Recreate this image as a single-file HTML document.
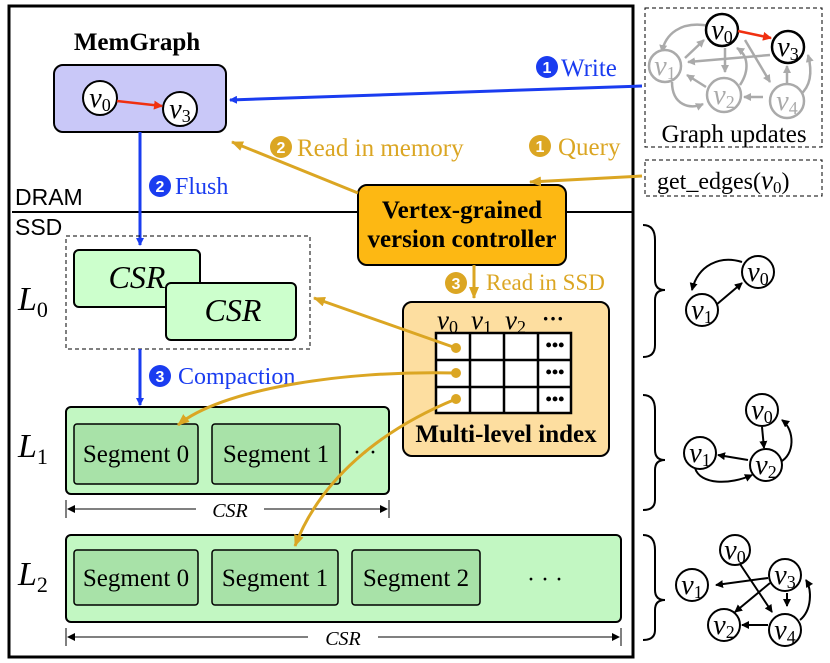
<!DOCTYPE html>
<html><head><meta charset="utf-8"><style>body{margin:0;background:#fff}svg{display:block}</style></head><body>
<svg width="830" height="663" viewBox="0 0 830 663" xmlns="http://www.w3.org/2000/svg" font-family="Liberation Serif, serif">
<defs>
<marker id="ab" markerWidth="8" markerHeight="8" refX="7" refY="4" orient="auto" markerUnits="userSpaceOnUse"><path d="M0,0L8,4L0,8z" fill="#1a3cf0"/></marker>
<marker id="ay" markerWidth="12" markerHeight="10" refX="11" refY="5" orient="auto" markerUnits="userSpaceOnUse"><path d="M0,0L12,5L0,10z" fill="#dba623"/></marker>
<marker id="ak" markerWidth="8" markerHeight="8" refX="7" refY="4" orient="auto" markerUnits="userSpaceOnUse"><path d="M0,0L8,4L0,8z" fill="#000"/></marker>
<marker id="ag" markerWidth="8" markerHeight="8" refX="7" refY="4" orient="auto" markerUnits="userSpaceOnUse"><path d="M0,0L8,4L0,8z" fill="#aaa"/></marker>
<marker id="ar" markerWidth="9" markerHeight="9" refX="8" refY="4.5" orient="auto" markerUnits="userSpaceOnUse"><path d="M0,0L9,4.5L0,9z" fill="#f03010"/></marker>
</defs>
<rect x="9" y="6" width="624" height="651" fill="none" stroke="#000" stroke-width="3"/>
<line x1="12" y1="212" x2="633" y2="212" stroke="#000" stroke-width="2"/>
<text x="15" y="205" font-family="Liberation Sans, sans-serif" font-size="23">DRAM</text>
<text x="15" y="235" font-family="Liberation Sans, sans-serif" font-size="23">SSD</text>

<text x="137" y="50" font-size="25" font-weight="bold" text-anchor="middle">MemGraph</text>
<rect x="54" y="65" width="172" height="67" rx="9" fill="#c9c8f8" stroke="#000" stroke-width="2"/>
<circle cx="100" cy="98" r="17" fill="#fff" stroke="#000" stroke-width="2"/>
<text x="100" y="107" font-size="28" font-style="italic" text-anchor="middle">v<tspan font-size="18" font-style="normal" dy="4">0</tspan></text>
<circle cx="180" cy="109" r="17" fill="#fff" stroke="#000" stroke-width="2"/>
<text x="180" y="118" font-size="28" font-style="italic" text-anchor="middle">v<tspan font-size="18" font-style="normal" dy="4">3</tspan></text>
<line x1="117" y1="101" x2="162" y2="106" stroke="#f03010" stroke-width="2.5" marker-end="url(#ar)"/>

<line x1="642" y1="86" x2="230" y2="100" stroke="#1a3cf0" stroke-width="3" marker-end="url(#ab)"/>
<circle cx="547" cy="67" r="11" fill="#1a3cf0"/><text x="547" y="73" fill="#fff" font-size="16" font-weight="bold" text-anchor="middle" font-family="Liberation Sans, sans-serif">1</text>
<text x="561" y="76" fill="#1a3cf0" font-size="25">Write</text>

<line x1="140" y1="132" x2="140" y2="245" stroke="#1a3cf0" stroke-width="3" marker-end="url(#ab)"/>
<circle cx="160" cy="186" r="11" fill="#1a3cf0"/><text x="160" y="192" fill="#fff" font-size="16" font-weight="bold" text-anchor="middle" font-family="Liberation Sans, sans-serif">2</text>
<text x="175" y="194" fill="#1a3cf0" font-size="24">Flush</text>

<rect x="66" y="236" width="244" height="113" fill="none" stroke="#000" stroke-dasharray="4,3"/>
<text x="18" y="310" font-size="34" font-style="italic">L<tspan font-size="22" font-style="normal" dy="7">0</tspan></text>
<rect x="74" y="250" width="126" height="57" rx="5" fill="#ccffcc" stroke="#000" stroke-width="2"/>
<text x="137" y="288" font-size="32" font-style="italic" text-anchor="middle">CSR</text>
<rect x="166" y="283" width="130" height="57" rx="5" fill="#ccffcc" stroke="#000" stroke-width="2"/>
<text x="233" y="321" font-size="32" font-style="italic" text-anchor="middle">CSR</text>

<line x1="140" y1="349" x2="140" y2="405" stroke="#1a3cf0" stroke-width="3" marker-end="url(#ab)"/>
<circle cx="160" cy="376" r="11" fill="#1a3cf0"/><text x="160" y="382" fill="#fff" font-size="16" font-weight="bold" text-anchor="middle" font-family="Liberation Sans, sans-serif">3</text>
<text x="178" y="384" fill="#1a3cf0" font-size="24">Compaction</text>

<text x="18" y="457" font-size="34" font-style="italic">L<tspan font-size="22" font-style="normal" dy="7">1</tspan></text>
<rect x="66" y="407" width="323" height="87" rx="5" fill="#c2f7c2" stroke="#000" stroke-width="2"/>
<rect x="74" y="424" width="124" height="60" rx="3" fill="#a8e2a8" stroke="#000" stroke-width="1.5"/>
<text x="136" y="462" font-size="25" text-anchor="middle">Segment 0</text>
<rect x="212" y="424" width="128" height="60" rx="3" fill="#a8e2a8" stroke="#000" stroke-width="1.5"/>
<text x="276" y="462" font-size="25" text-anchor="middle">Segment 1</text>
<text x="365" y="460" font-size="24" text-anchor="middle">···</text>
<line x1="66" y1="500" x2="66" y2="518" stroke="#000"/><line x1="389" y1="500" x2="389" y2="518" stroke="#000"/>
<line x1="68" y1="509" x2="387" y2="509" stroke="#000" marker-end="url(#ak)"/><line x1="387" y1="509" x2="68" y2="509" stroke="#000" marker-end="url(#ak)"/>
<rect x="196" y="500" width="68" height="18" fill="#fff"/>
<text x="230" y="517" font-size="20" font-style="italic" text-anchor="middle">CSR</text>

<text x="18" y="585" font-size="34" font-style="italic">L<tspan font-size="22" font-style="normal" dy="7">2</tspan></text>
<rect x="66" y="535" width="555" height="87" rx="5" fill="#c2f7c2" stroke="#000" stroke-width="2"/>
<rect x="74" y="550" width="124" height="55" rx="3" fill="#a8e2a8" stroke="#000" stroke-width="1.5"/>
<text x="136" y="586" font-size="25" text-anchor="middle">Segment 0</text>
<rect x="212" y="550" width="126" height="55" rx="3" fill="#a8e2a8" stroke="#000" stroke-width="1.5"/>
<text x="275" y="586" font-size="25" text-anchor="middle">Segment 1</text>
<rect x="352" y="550" width="128" height="55" rx="3" fill="#a8e2a8" stroke="#000" stroke-width="1.5"/>
<text x="416" y="586" font-size="25" text-anchor="middle">Segment 2</text>
<text x="545" y="587" font-size="24" text-anchor="middle">· · ·</text>
<line x1="66" y1="628" x2="66" y2="646" stroke="#000"/><line x1="621" y1="628" x2="621" y2="646" stroke="#000"/>
<line x1="68" y1="637" x2="619" y2="637" stroke="#000" marker-end="url(#ak)"/><line x1="619" y1="637" x2="68" y2="637" stroke="#000" marker-end="url(#ak)"/>
<rect x="308" y="628" width="70" height="18" fill="#fff"/>
<text x="343" y="645" font-size="20" font-style="italic" text-anchor="middle">CSR</text>

<rect x="358" y="185" width="208" height="80" rx="9" fill="#fdb813" stroke="#000" stroke-width="2"/>
<text x="462" y="218" font-size="25" font-weight="bold" text-anchor="middle">Vertex-grained</text>
<text x="462" y="247" font-size="25" font-weight="bold" text-anchor="middle">version controller</text>

<line x1="358" y1="193" x2="232" y2="142" stroke="#dba623" stroke-width="3" marker-end="url(#ay)"/>
<circle cx="281" cy="147" r="11" fill="#dba623"/><text x="281" y="153" fill="#fff" font-size="16" font-weight="bold" text-anchor="middle" font-family="Liberation Sans, sans-serif">2</text>
<text x="297" y="156" fill="#dba623" font-size="25">Read in memory</text>
<line x1="642" y1="176" x2="530" y2="182" stroke="#dba623" stroke-width="3" marker-end="url(#ay)"/>
<circle cx="540" cy="146" r="11" fill="#dba623"/><text x="540" y="152" fill="#fff" font-size="16" font-weight="bold" text-anchor="middle" font-family="Liberation Sans, sans-serif">1</text>
<text x="558" y="155" fill="#dba623" font-size="25">Query</text>
<line x1="474" y1="265" x2="474" y2="298" stroke="#dba623" stroke-width="3" marker-end="url(#ay)"/>
<circle cx="456" cy="283" r="11" fill="#dba623"/><text x="456" y="289" fill="#fff" font-size="16" font-weight="bold" text-anchor="middle" font-family="Liberation Sans, sans-serif">3</text>
<text x="486" y="290" fill="#dba623" font-size="23">Read in SSD</text>

<rect x="403" y="302" width="206" height="154" rx="9" fill="#fddea0" stroke="#000" stroke-width="2"/>
<text x="437" y="329" font-size="27" font-style="italic">v<tspan font-size="18" font-style="normal" dy="4">0</tspan></text>
<text x="471" y="329" font-size="27" font-style="italic">v<tspan font-size="18" font-style="normal" dy="4">1</tspan></text>
<text x="505" y="329" font-size="27" font-style="italic">v<tspan font-size="18" font-style="normal" dy="4">2</tspan></text>
<text x="542" y="326" font-size="22" font-weight="bold">···</text>
<g stroke="#000" stroke-width="2.5" fill="#fff">
<rect x="436" y="333" width="135" height="80"/>
<line x1="470" y1="333" x2="470" y2="413"/><line x1="504" y1="333" x2="504" y2="413"/><line x1="538" y1="333" x2="538" y2="413"/>
<line x1="436" y1="360" x2="571" y2="360"/><line x1="436" y1="387" x2="571" y2="387"/>
</g>
<g font-size="18" font-weight="bold" text-anchor="middle"><text x="555" y="351">•••</text><text x="555" y="378">•••</text><text x="555" y="405">•••</text></g>
<text x="506" y="442" font-size="25" font-weight="bold" text-anchor="middle">Multi-level index</text>

<g stroke="#dba623" stroke-width="3" fill="none">
<line x1="456" y1="348" x2="314" y2="298" marker-end="url(#ay)"/>
<path d="M456,373 C340,370 220,390 178,425" marker-end="url(#ay)"/>
<path d="M456,399 C380,430 320,480 295,546" marker-end="url(#ay)"/>
</g>
<g fill="#dba623"><circle cx="456" cy="348" r="5"/><circle cx="456" cy="373" r="5"/><circle cx="456" cy="399" r="5"/></g>

<rect x="645" y="8" width="177" height="139" fill="none" stroke="#000" stroke-dasharray="4,3"/>
<g stroke="#aaa" stroke-width="2.5" fill="none">
<path d="M710,26 C680,20 665,35 662,52" marker-end="url(#ag)"/>
<line x1="685" y1="58" x2="704" y2="40" marker-end="url(#ag)"/>
<line x1="725" y1="48" x2="725" y2="72" marker-end="url(#ag)"/>
<line x1="745" y1="40" x2="770" y2="82" marker-end="url(#ag)"/>
<line x1="770" y1="55" x2="688" y2="62" marker-end="url(#ag)"/>
<line x1="763" y1="97" x2="744" y2="97" marker-end="url(#ag)"/>
<line x1="787" y1="85" x2="787" y2="66" marker-end="url(#ag)"/>
<line x1="706" y1="87" x2="687" y2="75" marker-end="url(#ag)"/>
<path d="M672,82 C672,105 690,110 703,104" marker-end="url(#ag)"/>
<path d="M740,85 C750,70 748,55 737,48" marker-end="url(#ag)"/>
<path d="M800,95 C812,85 812,70 808,55" marker-end="url(#ag)"/>
</g>
<g stroke="#aaa" stroke-width="2.5" fill="#fff">
<circle cx="665" cy="66" r="16"/><circle cx="724" cy="95" r="17"/><circle cx="787" cy="101" r="17"/>
</g>
<g fill="#aaa" font-size="28" font-style="italic" text-anchor="middle">
<text x="665" y="75">v<tspan font-size="18" font-style="normal" dy="4">1</tspan></text>
<text x="724" y="104">v<tspan font-size="18" font-style="normal" dy="4">2</tspan></text>
<text x="787" y="110">v<tspan font-size="18" font-style="normal" dy="4">4</tspan></text>
</g>
<circle cx="722" cy="30" r="16" fill="#fff" stroke="#000" stroke-width="2.5"/>
<text x="722" y="39" font-size="28" font-style="italic" text-anchor="middle">v<tspan font-size="18" font-style="normal" dy="4">0</tspan></text>
<circle cx="788" cy="47" r="16" fill="#fff" stroke="#000" stroke-width="2.5"/>
<text x="788" y="56" font-size="28" font-style="italic" text-anchor="middle">v<tspan font-size="18" font-style="normal" dy="4">3</tspan></text>
<line x1="738" y1="31" x2="771" y2="38" stroke="#f03010" stroke-width="2.5" marker-end="url(#ar)"/>
<text x="734" y="142" font-size="25" text-anchor="middle">Graph updates</text>
<rect x="645" y="160" width="177" height="36" fill="none" stroke="#000" stroke-dasharray="4,3"/>
<text x="657" y="189" font-size="24">get_edges(<tspan font-style="italic" font-size="27">v</tspan><tspan font-size="17" dy="4">0</tspan><tspan dy="-4">)</tspan></text>

<g stroke="#000" stroke-width="2" fill="none">
<path d="M643,225 Q655,225 655,240 L655,280 Q655,290 665,290 Q655,290 655,300 L655,345 Q655,357 643,357"/>
<path d="M643,395 Q655,395 655,410 L655,450 Q655,460 665,460 Q655,460 655,470 L655,500 Q655,510 643,510"/>
<path d="M643,535 Q655,535 655,550 L655,590 Q655,600 665,600 Q655,600 655,610 L655,630 Q655,640 643,640"/>
</g>
<g stroke="#000" stroke-width="2" fill="none">
<path d="M742,262 C720,255 698,265 692,290" marker-end="url(#ak)"/>
<line x1="716" y1="305" x2="742" y2="283" marker-end="url(#ak)"/>
<line x1="762" y1="427" x2="764" y2="448" marker-end="url(#ak)"/>
<line x1="748" y1="460" x2="718" y2="455" marker-end="url(#ak)"/>
<path d="M695,468 C700,485 730,485 752,475" marker-end="url(#ak)"/>
<path d="M780,462 C795,455 795,430 782,420" marker-end="url(#ak)"/>
<line x1="740" y1="564" x2="772" y2="612" marker-end="url(#ak)"/>
<line x1="768" y1="578" x2="716" y2="585" marker-end="url(#ak)"/>
<line x1="770" y1="583" x2="735" y2="612" marker-end="url(#ak)"/>
<line x1="787" y1="593" x2="787" y2="606" marker-end="url(#ak)"/>
<line x1="768" y1="625" x2="742" y2="625" marker-end="url(#ak)"/>
<path d="M800,620 C812,610 812,590 806,580" marker-end="url(#ak)"/>
</g>
<g stroke="#000" stroke-width="2" fill="#fff">
<circle cx="758" cy="272" r="16"/><circle cx="702" cy="310" r="16"/>
<circle cx="762" cy="410" r="16"/><circle cx="700" cy="453" r="16"/><circle cx="766" cy="465" r="16"/>
<circle cx="735" cy="550" r="15"/><circle cx="785" cy="575" r="16"/><circle cx="692" cy="585" r="16"/><circle cx="724" cy="625" r="16"/><circle cx="785" cy="630" r="16"/>
</g>
<g font-size="28" font-style="italic" text-anchor="middle">
<text x="758" y="281">v<tspan font-size="18" font-style="normal" dy="4">0</tspan></text>
<text x="702" y="319">v<tspan font-size="18" font-style="normal" dy="4">1</tspan></text>
<text x="762" y="419">v<tspan font-size="18" font-style="normal" dy="4">0</tspan></text>
<text x="700" y="462">v<tspan font-size="18" font-style="normal" dy="4">1</tspan></text>
<text x="766" y="474">v<tspan font-size="18" font-style="normal" dy="4">2</tspan></text>
<text x="735" y="559">v<tspan font-size="18" font-style="normal" dy="4">0</tspan></text>
<text x="785" y="584">v<tspan font-size="18" font-style="normal" dy="4">3</tspan></text>
<text x="692" y="594">v<tspan font-size="18" font-style="normal" dy="4">1</tspan></text>
<text x="724" y="634">v<tspan font-size="18" font-style="normal" dy="4">2</tspan></text>
<text x="785" y="639">v<tspan font-size="18" font-style="normal" dy="4">4</tspan></text>
</g>
</svg>
</body></html>
